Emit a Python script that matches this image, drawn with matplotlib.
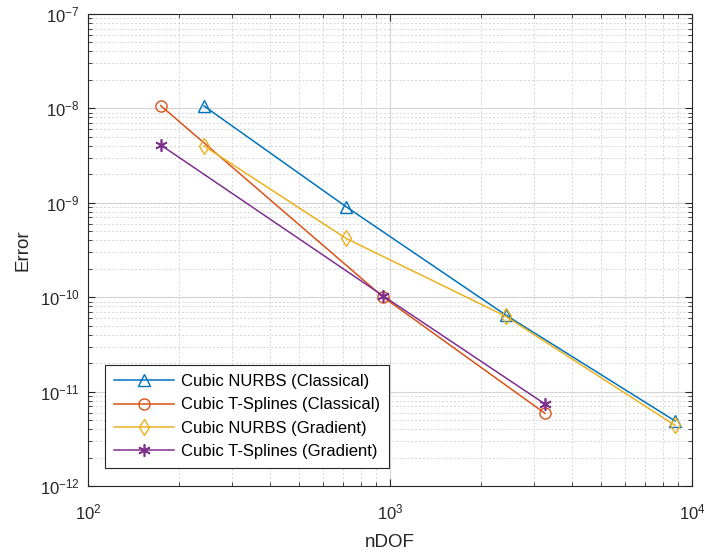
import matplotlib
matplotlib.use("Agg")
import matplotlib.pyplot as plt
from matplotlib.ticker import LogLocator, NullFormatter

plt.rcParams['font.family'] = ['Liberation Sans', 'DejaVu Sans']
plt.rcParams['mathtext.fontset'] = 'custom'
plt.rcParams['mathtext.rm'] = 'Liberation Sans'

# data
ndof_nurbs = [242, 715, 2414, 8790]
ndof_tspl = [174, 951, 3260]

err_nurbs_classical = [1.06e-8, 9.1e-10, 6.5e-11, 4.9e-12]
err_tspl_classical = [1.07e-8, 1.0e-10, 5.9e-12]
err_nurbs_gradient = [4.0e-9, 4.2e-10, 6.3e-11, 4.4e-12]
err_tspl_gradient = [4.1e-9, 1.03e-10, 7.4e-12]

labels = ['Cubic NURBS (Classical)', 'Cubic T-Splines (Classical)',
          'Cubic NURBS (Gradient)', 'Cubic T-Splines (Gradient)']
colors = ['#0072BD', '#D95319', '#EDB120', '#7E2F8E']

fig = plt.figure(figsize=(7.04, 5.55), dpi=100)
ax = fig.add_axes([0.125, 0.124, 0.858, 0.851])

ms = 8
ax.loglog(ndof_nurbs, err_nurbs_classical, '-^', color=colors[0], mfc='none', ms=ms, lw=1.1, label=labels[0])
ax.loglog(ndof_tspl, err_tspl_classical, '-o', color=colors[1], mfc='none', ms=ms, lw=1.1, label=labels[1])
ax.loglog(ndof_nurbs, err_nurbs_gradient, '-d', color=colors[2], mfc='none', ms=ms, lw=1.1, label=labels[2])
ax.loglog(ndof_tspl, err_tspl_gradient, '-', marker=(6, 2, 0), color=colors[3], ms=ms + 1, mew=1.2,
          lw=1.1, label=labels[3])

ax.set_xlim(1e2, 1e4)
ax.set_ylim(1e-12, 1e-7)
ax.xaxis.set_major_locator(LogLocator(base=10, numticks=10))
ax.yaxis.set_major_locator(LogLocator(base=10, numticks=10))
ax.xaxis.set_minor_locator(LogLocator(base=10, subs=range(2, 10), numticks=20))
ax.yaxis.set_minor_locator(LogLocator(base=10, subs=range(2, 10), numticks=20))
ax.xaxis.set_minor_formatter(NullFormatter())
ax.yaxis.set_minor_formatter(NullFormatter())

ax.grid(True, which='major', color='#d4d4d4', lw=0.8, ls='-')
ax.grid(True, which='minor', color='#d6d6d6', lw=0.7, ls=(0, (2, 2)))
ax.set_axisbelow(True)

ax.tick_params(which='both', direction='in', top=True, right=True, colors='#262626', labelsize=12)
ax.tick_params(which='major', length=5)
ax.tick_params(which='minor', length=3)
ax.tick_params(axis='x', which='major', pad=12)
ax.tick_params(axis='y', which='major', pad=6)
for s in ax.spines.values():
    s.set_color('#262626')
    s.set_linewidth(0.8)

ax.set_xlabel('nDOF', fontsize=13.5, color='#262626', labelpad=8)
ax.set_ylabel('Error', fontsize=13.5, color='#262626', labelpad=6)

leg = ax.legend(loc='lower left', bbox_to_anchor=(0.028, 0.038), borderaxespad=0, fontsize=12,
                fancybox=False, edgecolor='#262626', framealpha=1, handlelength=3.6,
                handletextpad=0.4, borderpad=0.55, labelspacing=0.5)
leg.get_frame().set_linewidth(0.8)

fig.savefig('out.png', dpi=100)
